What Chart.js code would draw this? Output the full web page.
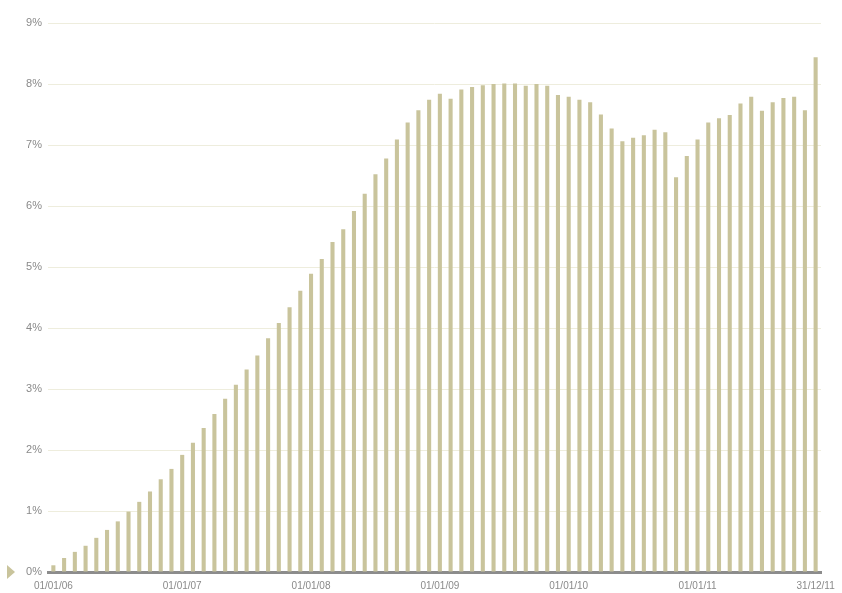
<!DOCTYPE html>
<html>
<head>
<meta charset="utf-8">
<script src="https://cdn.jsdelivr.net/npm/chart.js@4/dist/chart.umd.min.js"></script>
<style>
  html, body { margin: 0; padding: 0; background: #fff; }
  #wrap { width: 842px; height: 593px; }
</style>
</head>
<body>
<div id="wrap"><canvas id="chart" width="842" height="593"></canvas></div>
<script>
// monthly values, Jan 2006 .. Dec 2011 (%)
const values2006 = [0.11, 0.23, 0.33, 0.43, 0.56, 0.69, 0.83, 0.99, 1.15, 1.32, 1.52, 1.69];
const values2007 = [1.92, 2.12, 2.36, 2.59, 2.84, 3.07, 3.32, 3.55, 3.83, 4.08, 4.34, 4.61];
const values2008 = [4.89, 5.13, 5.41, 5.62, 5.92, 6.20, 6.52, 6.78, 7.09, 7.37, 7.57, 7.74];
const values2009 = [7.84, 7.76, 7.91, 7.95, 7.98, 8.00, 8.01, 8.01, 7.97, 8.00, 7.97, 7.82];
const values2010 = [7.79, 7.74, 7.70, 7.50, 7.27, 7.06, 7.12, 7.16, 7.25, 7.21, 6.47, 6.82];
const values2011 = [7.09, 7.37, 7.44, 7.49, 7.68, 7.79, 7.56, 7.70, 7.77, 7.79, 7.57, 8.44];

const tickLabels = ["01/01/06", "01/01/07", "01/01/08", "01/01/09", "01/01/10", "01/01/11"];
const lastLabel = "31/12/11";

const values = [].concat(values2006, values2007, values2008, values2009, values2010, values2011);
const labels = values.map((v, i) => {
  if (i === values.length - 1) return lastLabel;
  return i % 12 === 0 ? tickLabels[i / 12] : "";
});

// small marker on the left at the zero line
const zeroMarker = {
  id: "zeroMarker",
  afterDraw(chart) {
    const c = chart.ctx;
    const y = chart.scales.y.getPixelForValue(0);
    c.save();
    c.fillStyle = "#c9c49c";
    c.beginPath();
    c.moveTo(7, y - 7);
    c.lineTo(15, y);
    c.lineTo(7, y + 7);
    c.closePath();
    c.fill();
    c.restore();
  }
};

const ctx = document.getElementById("chart").getContext("2d");
new Chart(ctx, {
  type: "bar",
  data: {
    labels: labels,
    datasets: [{
      data: values,
      backgroundColor: "#c9c49c",
      borderWidth: 0,
      barPercentage: 0.38,
      categoryPercentage: 1
    }]
  },
  options: {
    responsive: false,
    animation: false,
    layout: { padding: { top: 23, right: 21, left: 0, bottom: 0 } },
    plugins: { legend: { display: false }, tooltip: { enabled: false } },
    scales: {
      x: {
        grid: { display: false },
        border: { display: true, color: "#8c8c8c", width: 3 },
        ticks: {
          autoSkip: false,
          maxRotation: 0,
          padding: 0,
          color: "#8a8a8a",
          font: { family: "Liberation Sans", size: 10 }
        },
        afterFit: s => { s.height = 21; }
      },
      y: {
        min: 0,
        max: 9,
        grid: { color: "#eeeddd", lineWidth: 1, drawTicks: false },
        border: { display: false },
        ticks: {
          stepSize: 1,
          padding: 6,
          color: "#8a8a8a",
          font: { family: "Liberation Sans", size: 11 },
          callback: v => v + "%"
        },
        afterFit: s => { s.width = 48; }
      }
    }
  },
  plugins: [zeroMarker]
});
</script>
</body>
</html>
